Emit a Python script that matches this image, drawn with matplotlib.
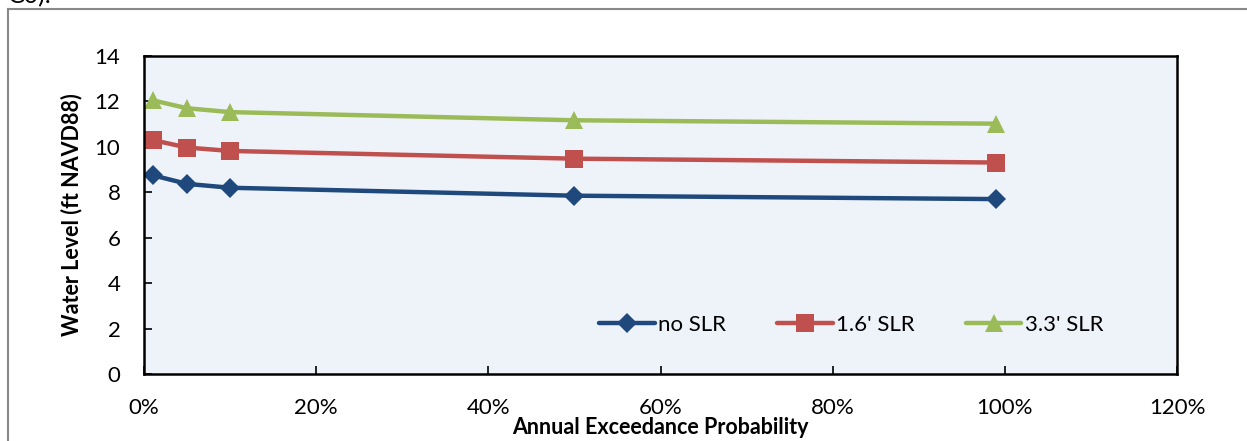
import matplotlib.pyplot as plt
from matplotlib.lines import Line2D
from matplotlib.ticker import PercentFormatter

plt.rcParams['font.family'] = ['Lato', 'DejaVu Sans']

# annual exceedance probability and water levels (ft NAVD88)
aep = [0.01, 0.05, 0.10, 0.50, 0.99]
no_slr = [8.75, 8.37, 8.20, 7.85, 7.70]
slr_16 = [10.30, 9.97, 9.82, 9.48, 9.31]
slr_33 = [12.05, 11.70, 11.53, 11.17, 11.02]

series = [
    ("no SLR", no_slr, '#1F497D', 'D', 10),
    ("1.6' SLR", slr_16, '#C0504D', 's', 13),
    ("3.3' SLR", slr_33, '#9BBB59', '^', 13),
]

W, H = 1247, 441
fig = plt.figure(figsize=(W / 100, H / 100), dpi=100)
ax = fig.add_axes([144 / W, (H - 374) / H, 1033 / W, 318 / H])
ax.set_facecolor('#EEF3FA')

for name, vals, col, mk, ms in series:
    ax.plot(aep, vals, color=col, lw=3.2, marker=mk, markersize=ms,
            markeredgewidth=0, label=name, solid_capstyle='round')

ax.set_xlim(0, 1.2)
ax.set_ylim(0, 14)
ax.set_xticks([0, 0.2, 0.4, 0.6, 0.8, 1.0, 1.2])
ax.set_yticks(range(0, 15, 2))
ax.xaxis.set_major_formatter(PercentFormatter(1.0, decimals=0))
ax.tick_params(axis='both', direction='in', length=6, width=1.2,
               labelsize=16, pad=17)
for s in ax.spines.values():
    s.set_linewidth(1.8)
    s.set_color('black')

ax.legend(loc='lower right', bbox_to_anchor=(0.948, 0.06), ncol=3, frameon=False,
          fontsize=16, handlelength=2.5, handletextpad=0.15, columnspacing=2.3)

fig.text(660 / W, 1 - 428 / H, 'Annual Exceedance Probability', ha='center',
         va='center', fontsize=15.5, fontweight='bold')
fig.text(72 / W, 1 - 215 / H, 'Water Level (ft NAVD88)', ha='center',
         va='center', rotation=90, fontsize=15.5, fontweight='bold')

# page frame and clipped caption from the source document
fig.add_artist(Line2D([8 / W, 1], [1 - 9 / H, 1 - 9 / H], color='#888888', lw=1.5))
fig.add_artist(Line2D([8 / W, 8 / W], [0, 1 - 9 / H], color='#888888', lw=1.5))
fig.text(8 / W, 1 - 3 / H, 'C0).', fontsize=18, va='baseline')

fig.savefig('out.png', dpi=100)
